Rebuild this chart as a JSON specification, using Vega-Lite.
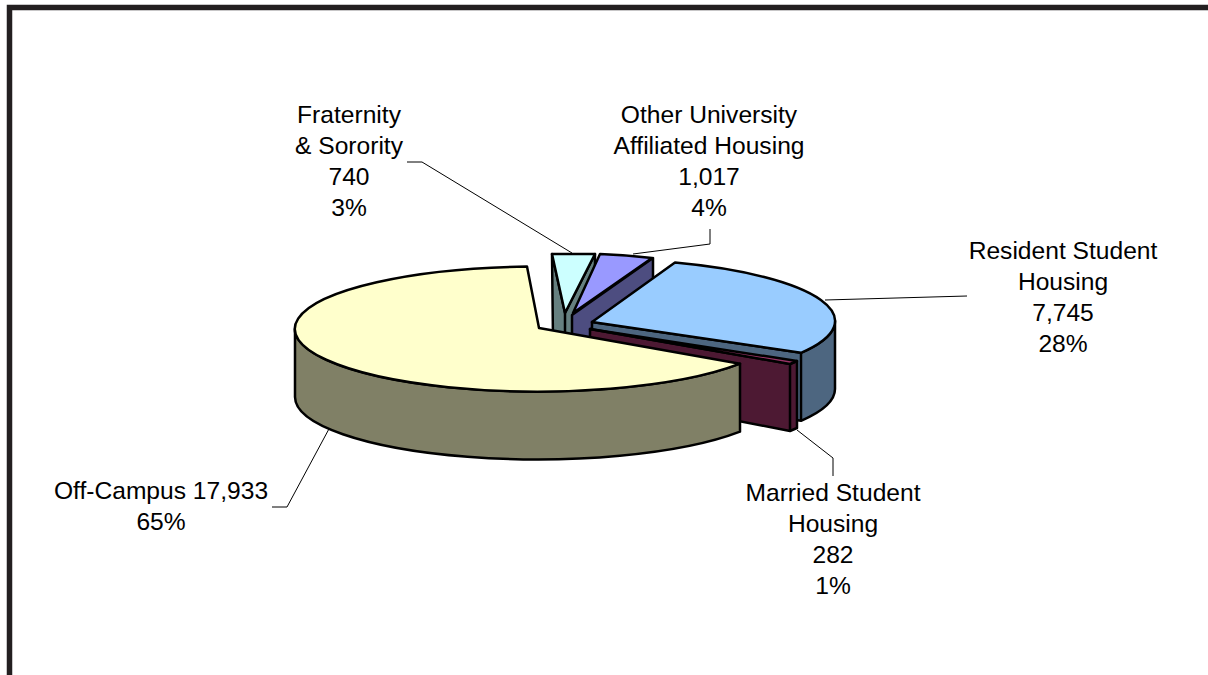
{"$schema":"https://vega.github.io/schema/vega-lite/v6.json","width":1208,"height":675,"padding":0,"autosize":"none","background":"white","config":{"view":{"stroke":null}},
"data":{"values":[
{"slice":"Fraternity & Sorority","value":740,"percent":3,"label":" Fraternity\n& Sorority\n740\n3%"},
{"slice":"Other University Affiliated Housing","value":1017,"percent":4,"label":"Other University\nAffiliated Housing\n1,017\n4%"},
{"slice":"Resident Student Housing","value":7745,"percent":28,"label":"Resident Student\nHousing\n7,745\n28%"},
{"slice":"Married Student Housing","value":282,"percent":1,"label":"Married Student\nHousing\n282\n1%"},
{"slice":"Off-Campus","value":17933,"percent":65,"label":"Off-Campus 17,933\n65%"}]},
"layer":[
{"data":{"values":[{"part":"frame"}]},"mark":{"type":"point","filled":false,"opacity":1,"size":4,"stroke":"#231f20","strokeWidth":5.5,"shape":"M -594.5 345 L -594.5 -330 L 610 -330"},"encoding":{}},
{"mark":{"type":"point","filled":false,"fill":"transparent","opacity":1,"size":4,"stroke":"#000000","strokeWidth":1},"encoding":{"shape":{"field":"slice","type":"nominal","legend":null,"scale":{"domain":["Fraternity & Sorority","Other University Affiliated Housing","Resident Student Housing","Married Student Housing","Off-Campus"],"range":["M -197 -175.5 L -182 -175.5 L -32 -84.5","M 106 -108.5 L 106 -93.5 L 29 -83.5","M 363 -41.5 L 221 -37.5","M 229 138.5 L 229 120.5 L 193 92.5","M -332 169.5 L -317 169.5 L -274 89.5"]}}}},
{"mark":{"type":"point","filled":true,"opacity":1,"size":4,"stroke":"#000000","strokeWidth":2.5,"strokeJoin":"round"},"encoding":{"shape":{"field":"slice","type":"nominal","legend":null,"scale":{"domain":["Fraternity & Sorority","Other University Affiliated Housing","Resident Student Housing","Married Student Housing","Off-Campus"],"range":["M -52 -83.5 L -39 -24.5 L -39 43.5 L -51 2.5 Z M -9 -83.5 L -39 -24.5 L -39 43.5 L -9 -15.5 Z","M -32 -22.5 L 49 -79.5 L 49 -11.5 L -32 45.5 Z","M -12 -15.5 L 197 15.3 L 197 83.3 L -12 52.5 Z M 197 15.3 A 240 62 0 0 0 231 -16.5 L 231 51.5 A 240 62 0 0 1 197 83.3 Z","M -14 -8.5 L 186 26.5 L 186 93.5 L -14 54.5 Z M 186 26.5 L 193 23.5 L 193 90.5 L 186 93.5 Z","M -309 -8.5 A 243 62.5 0 0 0 136 26.2 L 136 94.2 A 243 62.5 0 0 1 -309 59.5 Z"]}},"fill":{"field":"slice","type":"nominal","legend":null,"scale":{"domain":["Fraternity & Sorority","Other University Affiliated Housing","Resident Student Housing","Married Student Housing","Off-Campus"],"range":["#668080","#4d4d80","#4d6680","#4d1933","#808066"]}}}},
{"mark":{"type":"point","filled":true,"opacity":1,"size":4,"stroke":"#000000","strokeWidth":2.5,"strokeJoin":"round"},"encoding":{"shape":{"field":"slice","type":"nominal","legend":null,"scale":{"domain":["Fraternity & Sorority","Other University Affiliated Housing","Resident Student Housing","Married Student Housing","Off-Campus"],"range":["M -39 -24.5 L -52 -83.5 L -9 -83.5 Z","M -31 -24.5 L -4 -83.5 A 240 63 0 0 1 48 -79.5 Z","M -12 -15.5 L 197 15.3 A 240 62 0 0 0 71 -75 Z","M -14 -8.5 L 193 23.5 L 186 26.5 Z","M -65 -9.5 L 136 26.2 A 243 62.5 0 1 1 -77 -70.9 Z"]}},"fill":{"field":"slice","type":"nominal","legend":null,"scale":{"domain":["Fraternity & Sorority","Other University Affiliated Housing","Resident Student Housing","Married Student Housing","Off-Campus"],"range":["#ccffff","#9999ff","#99ccff","#993366","#ffffcc"]}}}},
{"mark":{"type":"text","font":"Liberation Sans","fontSize":24.6,"align":"center","baseline":"top","lineHeight":31,"lineBreak":"\n","color":"#000000"},"encoding":{"text":{"field":"label","type":"nominal"},"x":{"field":"value","type":"quantitative","axis":null,"scale":{"zero":false,"nice":false,"domain":[282,740,1017,7745,17933],"range":[833,349,709,1063,161]}},"y":{"field":"value","type":"quantitative","axis":null,"scale":{"zero":false,"nice":false,"domain":[282,740,1017,7745,17933],"range":[482,104,104,240,480]}}}}
],
"resolve":{"scale":{"shape":"independent","fill":"independent"}}}
